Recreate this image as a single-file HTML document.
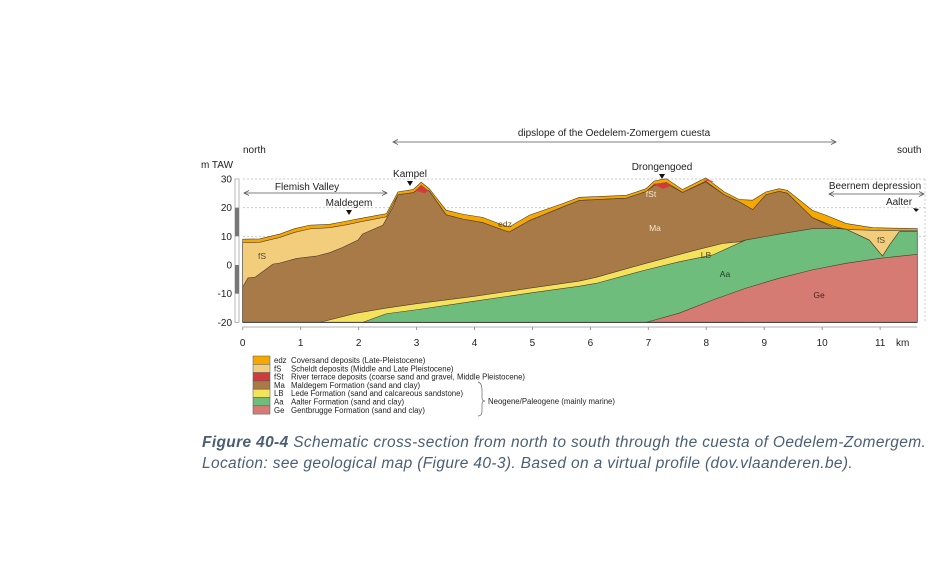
<!DOCTYPE html>
<html><head><meta charset="utf-8"><style>
body{margin:0;background:#fff;width:931px;height:582px;overflow:hidden;font-family:"Liberation Sans",sans-serif}
svg{position:absolute;left:0;top:0}
.cap{position:absolute;left:202px;top:432px;width:740px;font-size:15.5px;font-style:italic;color:#4a5f74;line-height:21px;letter-spacing:0.35px}
</style></head><body>
<svg id="chart" width="931" height="582"></svg>
<div class="cap"><b>Figure 40-4</b> Schematic cross-section from north to south through the cuesta of Oedelem-Zomergem.<br>Location: see geological map (Figure 40-3). Based on a virtual profile (dov.vlaanderen.be).</div>
<script>
const xTicks=[0,1,2,3,4,5,6,7,8,9,10,11];
const yTicks=[30,20,10,0,-10,-20];
const surfaceKm=[0,0.29,0.64,0.9,1.16,1.5,1.79,2.02,2.48,2.68,2.94,3.08,3.22,3.51,3.8,4.14,4.49,4.6,4.95,5.52,5.81,6.62,6.96,7.1,7.31,7.59,7.99,8.31,8.57,8.8,9.03,9.26,9.4,9.83,10.06,10.41,10.87,11.64];
const surfaceM=[9,9.1,10.8,12.7,13.9,14.2,15.3,16.2,17.9,25.5,26.3,28.9,26.6,19.1,17.7,16.6,13.9,13.3,17.4,21.4,23.6,24.3,26.6,29.3,30.1,26.3,30.4,25.5,22.8,22.6,25.5,26.6,26.0,19.1,17.4,14.5,13.0,12.7];
const edzBaseKm=[0,0.29,0.64,0.9,1.16,1.5,1.79,2.02,2.48,2.68,2.94,3.08,3.22,3.51,3.8,4.14,4.49,4.6,4.95,5.52,5.81,6.62,6.96,7.1,7.31,7.59,7.99,8.31,8.57,8.8,9.03,9.26,9.4,9.83,10.2,10.41,10.87,11.64];
const edzBaseM=[7.8,7.9,9.6,11.4,12.6,13.0,14.0,15.0,16.8,24.5,25.2,27.2,25.8,17.5,16.0,14.8,12.2,11.5,15.5,20.2,22.5,23.3,25.6,28.0,28.8,25.3,29.2,24.5,22.0,19.3,24.5,25.7,25.0,16.5,13.5,12.4,12.1,12.1];
const maTopKm=[0,0.09,0.21,0.52,0.64,0.93,1.27,1.5,1.72,1.99,2.07,2.42,2.5,2.6,2.68,2.94,3.08,3.22,3.51,3.8,4.14,4.49,4.6,4.95,5.52,5.81,6.62,6.96,7.1,7.31,7.59,7.99,8.31,8.57,8.8,9.03,9.26,9.4,9.83,10.2,10.41,10.81,11.04,11.18,11.33,11.64];
const maTopM=[-7.7,-4.5,-4.3,0.3,0.7,2.3,3.1,4.3,6.1,8.7,10.8,13.9,16.8,20.5,24.5,25.2,27.0,25.8,17.5,16.0,14.8,12.2,11.5,15.5,20.2,22.5,23.3,25.6,27.8,28.4,25.3,29.0,24.5,22.0,19.3,24.5,25.7,25.0,16.5,13.0,12.5,8.7,3.1,7.5,11.6,11.6];
const lbTopKm=[1.33,1.96,2.48,3.0,3.97,4.95,5.81,6.1,6.96,7.82,8.28,8.57,8.68];
const lbTopM=[-20,-16.8,-15.0,-13.5,-11.0,-8.1,-5.6,-4.3,0.6,5.2,7.5,8.1,8.7];
const aaTopKm=[2.07,2.48,3.0,3.97,4.95,5.81,6.1,6.96,7.53,8.11,8.68,9.26,9.84,10.24,10.41,10.81,11.04,11.18,11.33,11.64];
const aaTopM=[-20,-17.0,-15.6,-12.7,-9.8,-7.4,-6.4,-1.7,1.1,3.5,8.7,10.8,12.7,12.7,12.5,8.7,3.1,7.5,11.6,11.6];
const geTopKm=[6.96,7.53,8.11,8.68,9.26,9.83,10.41,10.98,11.64];
const geTopM=[-20,-16.8,-12.2,-8.1,-4.6,-1.7,0.6,2.3,3.7];
const fst1Km=[2.98,3.08,3.2,3.14],fst1M=[26.0,28.0,26.0,25.0];
const fst2Km=[7.08,7.3,7.4,7.25],fst2M=[28.3,28.8,27.6,26.6];
const fst3Km=[7.95,8.02,8.15],fst3M=[29.6,30.0,28.8];

const X=k=>242.7+k*57.95, Y=m=>265-m*2.868;
const svg=document.getElementById('chart');const NS='http://www.w3.org/2000/svg';
function mk(t,a,name,txt){const e=document.createElementNS(NS,t);for(const k in a)e.setAttribute(k,a[k]);


if(txt!==undefined)e.textContent=txt;svg.appendChild(e);return e;}
function layer(km,m,fill,name){let p='M'+X(km[0])+','+Y(-20);km.forEach((k,i)=>p+='L'+X(k)+','+Y(m[i]));p+='L'+X(km[km.length-1])+','+Y(-20)+'Z';
mk('path',{d:p,fill:fill,stroke:'#4a3a2a','stroke-width':0.6},name);}
function patch(km,m,name){mk('polygon',{points:km.map((k,i)=>X(k)+','+Y(m[i])).join(' '),fill:'#d23b3b'},name);}
[30,20,10].forEach(v=>mk('line',{x1:243,x2:925,y1:Y(v),y2:Y(v),stroke:'#ccc','stroke-dasharray':'2,2'},'gridline'));
mk('line',{x1:925,x2:925,y1:Y(30),y2:Y(-20),stroke:'#ccc','stroke-dasharray':'2,2'},'right-frame');
layer(surfaceKm,surfaceM,'#f5a800','layer-edz');
layer(edzBaseKm,edzBaseM,'#f1cd7c','layer-fs');
layer(maTopKm,maTopM,'#a77a48','layer-ma');
layer(lbTopKm,lbTopM,'#f4e15c','layer-lb');
layer(aaTopKm,aaTopM,'#6fbd7c','layer-aa');
layer(geTopKm,geTopM,'#d57b74','layer-ge');
patch(fst1Km,fst1M,'fst-kampel');patch(fst2Km,fst2M,'fst-drongengoed');patch(fst3Km,fst3M,'fst-peak');
mk('line',{x1:242.7,x2:X(11.64),y1:Y(-20),y2:Y(-20),stroke:'#444','stroke-width':1},'x-axis-line');
mk('line',{x1:242.7,x2:X(11.64),y1:327,y2:327,stroke:'#999','stroke-width':0.8},'x-axis');
xTicks.forEach(t=>{mk('line',{x1:X(t),x2:X(t),y1:327,y2:330,stroke:'#999'},'x-tick');
mk('text',{x:X(t),y:346,'font-size':10,'text-anchor':'middle',fill:'#222'},'x-tick-label',String(t));});
mk('text',{x:896,y:346,'font-size':10,fill:'#222'},'x-axis-unit','km');
mk('rect',{x:235,y:Y(30),width:4,height:Y(-20)-Y(30),fill:'#fff',stroke:'#999','stroke-width':0.7},'scale-bar');
mk('rect',{x:235,y:Y(20),width:4,height:Y(10)-Y(20),fill:'#777'},'scale-bar-dark');
mk('rect',{x:235,y:Y(0),width:4,height:Y(-10)-Y(0),fill:'#777'},'scale-bar-dark');
yTicks.forEach(t=>mk('text',{x:232,y:Y(t)+3.5,'font-size':10,'text-anchor':'end',fill:'#222'},'y-tick-label',String(t)));
mk('text',{x:201,y:168,'font-size':10,fill:'#222'},'y-axis-title','m TAW');
mk('text',{x:243,y:153,'font-size':10,fill:'#222'},'north-label','north');
mk('text',{x:897,y:153,'font-size':10,fill:'#222'},'south-label','south');
function arrow(x1,x2,y,name){mk('line',{x1:x1,x2:x2,y1:y,y2:y,stroke:'#555','stroke-width':0.8},name);
mk('path',{d:`M${x1+5},${y-2.5}L${x1},${y}L${x1+5},${y+2.5}M${x2-5},${y-2.5}L${x2},${y}L${x2-5},${y+2.5}`,fill:'none',stroke:'#555','stroke-width':0.8},name+'-heads');}
arrow(393,836,142,'dipslope-arrow');
mk('text',{x:614,y:136,'font-size':10,'text-anchor':'middle',fill:'#222'},'dipslope-label','dipslope of the Oedelem-Zomergem cuesta');
arrow(244,387,193,'flemish-valley-arrow');
mk('text',{x:307,y:190,'font-size':10,'text-anchor':'middle',fill:'#222'},'flemish-valley-label','Flemish Valley');
arrow(829,924,194,'beernem-arrow');
mk('text',{x:875,y:189,'font-size':10,'text-anchor':'middle',fill:'#222'},'beernem-label','Beernem depression');
mk('text',{x:410,y:177,'font-size':10,'text-anchor':'middle',fill:'#222'},'kampel-label','Kampel');
mk('text',{x:662,y:170,'font-size':10,'text-anchor':'middle',fill:'#222'},'drongengoed-label','Drongengoed');
mk('text',{x:349,y:206,'font-size':10,'text-anchor':'middle',fill:'#222'},'maldegem-label','Maldegem');
mk('text',{x:899,y:205,'font-size':10,'text-anchor':'middle',fill:'#222'},'aalter-label','Aalter');
[[410,181],[662,174],[349,210]].forEach(p=>mk('path',{d:`M${p[0]-3},${p[1]}L${p[0]+3},${p[1]}L${p[0]},${p[1]+5}Z`,fill:'#111'},'location-marker'));
mk('path',{d:'M913,208L919,209L916,212Z',fill:'#111'},'aalter-marker');
[['edz',505,227,'#6a4a10'],['fS',262,259,'#5a4a30'],['Ma',655,231,'#f3e6d0'],['fSt',651,197,'#f3e6d0'],['LB',706,258,'#5a4a20'],['Aa',725,277,'#1f3a22'],['Ge',819,298,'#4a1f1c'],['fS',881,243,'#5a4a30']].forEach(l=>
mk('text',{x:l[1],y:l[2],'font-size':8.5,'text-anchor':'middle',fill:l[3]},'layer-label-'+l[0],l[0]));
const legCodes=['edz','fS','fSt','Ma','LB','Aa','Ge'];
const legText=['Coversand deposits (Late-Pleistocene)','Scheldt deposits (Middle and Late Pleistocene)','River terrace deposits (coarse sand and gravel, Middle Pleistocene)','Maldegem Formation (sand and clay)','Lede Formation (sand and calcareous sandstone)','Aalter Formation (sand and clay)','Gentbrugge Formation (sand and clay)'];
const legCol=['#f5a800','#f1cd7c','#d23b3b','#a77a48','#f4e15c','#6fbd7c','#d57b74'];
legCodes.forEach((c,i)=>{const y=356+i*8.3;
mk('rect',{x:253,y:y,width:17,height:8.3,fill:legCol[i],stroke:'#555','stroke-width':0.5},'legend-swatch-'+c);
mk('text',{x:274,y:y+7,'font-size':7.8,fill:'#222'},'legend-code-'+c,c);
mk('text',{x:291,y:y+7,'font-size':7.8,fill:'#222'},'legend-text-'+c,legText[i]);});
mk('path',{d:'M478,382Q482,383 482,390L482,398Q482,401 485,401Q482,401 482,404L482,411Q482,416 478,416',fill:'none',stroke:'#666','stroke-width':0.7},'legend-brace');
mk('text',{x:488,y:404,'font-size':7.8,fill:'#222'},'legend-group-label','Neogene/Paleogene (mainly marine)');
</script>
</body></html>
